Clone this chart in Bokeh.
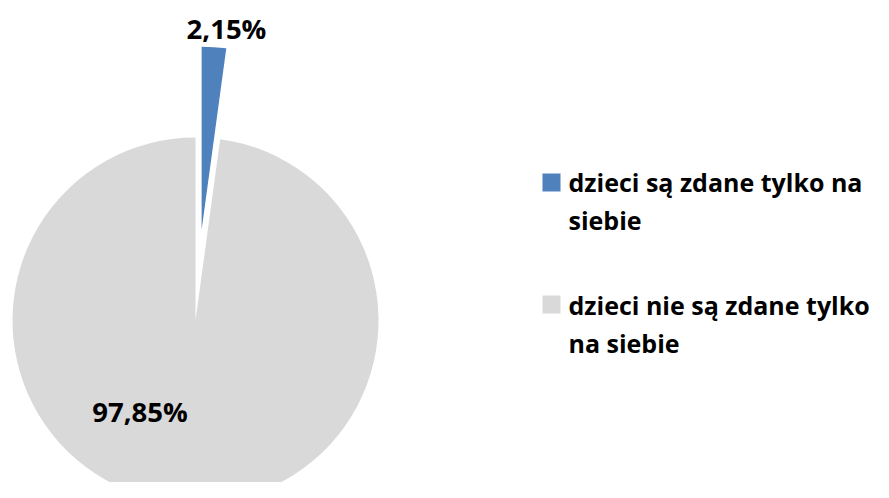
import math
from bokeh.plotting import figure
from bokeh.models import Range1d, ColumnDataSource
from bokeh.core.properties import value
from bokeh.embed import file_html
from bokeh.resources import INLINE

# ---- data ----
categories = ["dzieci są zdane tylko na siebie", "dzieci nie są zdane tylko na siebie"]
values = [2.15, 97.85]
value_labels = ["2,15%", "97,85%"]
legend_lines = [["dzieci są zdane tylko na", "siebie"], ["dzieci nie są zdane tylko", "na siebie"]]
colors = ["#4F81BD", "#D9D9D9"]
explode = [91, 0]

W, H = 881, 482
FONT = "Open Sans"

p = figure(width=W, height=H, output_backend="svg", toolbar_location=None,
           x_range=Range1d(0, W), y_range=Range1d(0, H), min_border=0)
p.axis.visible = False
p.grid.visible = False
p.outline_line_color = None
p.background_fill_color = "white"
p.border_fill_color = "white"

cx, cy, r = 195, 162, 183
total = sum(values)
start = math.pi / 2
xs, ys, starts, ends = [], [], [], []
for v, ex in zip(values, explode):
    sweep = v / total * 2 * math.pi
    end = start - sweep
    mid = (start + end) / 2
    xs.append(cx + ex * math.cos(mid))
    ys.append(cy + ex * math.sin(mid))
    starts.append(start)
    ends.append(end)
    start = end

src = ColumnDataSource(dict(x=xs, y=ys, s=starts, e=ends, c=colors))
p.wedge(x="x", y="y", radius=r, start_angle="s", end_angle="e", direction="clock",
        fill_color="c", line_color=None, source=src)

# value labels
lab_x = [226, 139.5]
lab_y = [454, 71]
p.text(x=lab_x, y=lab_y, text=value_labels, text_font=value(FONT), text_font_style="bold",
       text_font_size="27.5px", text_align="center", text_baseline="middle", text_color="#000000")

# legend
sq_x = [551, 551]
sq_y = [300, 178]
p.rect(x=sq_x, y=sq_y, width=18, height=18, fill_color=colors, line_color=None)
tx, ty, tt = [], [], []
for (lines, mid) in zip(legend_lines, [301, 178]):
    for i, ln in enumerate(lines):
        tx.append(568)
        ty.append(mid - 38 * i)
        tt.append(ln)
p.text(x=tx, y=ty, text=tt, text_font=value(FONT), text_font_style="bold",
       text_font_size="25px", text_align="left", text_baseline="middle", text_color="#000000")

open("out.html", "w").write(file_html(p, INLINE))
